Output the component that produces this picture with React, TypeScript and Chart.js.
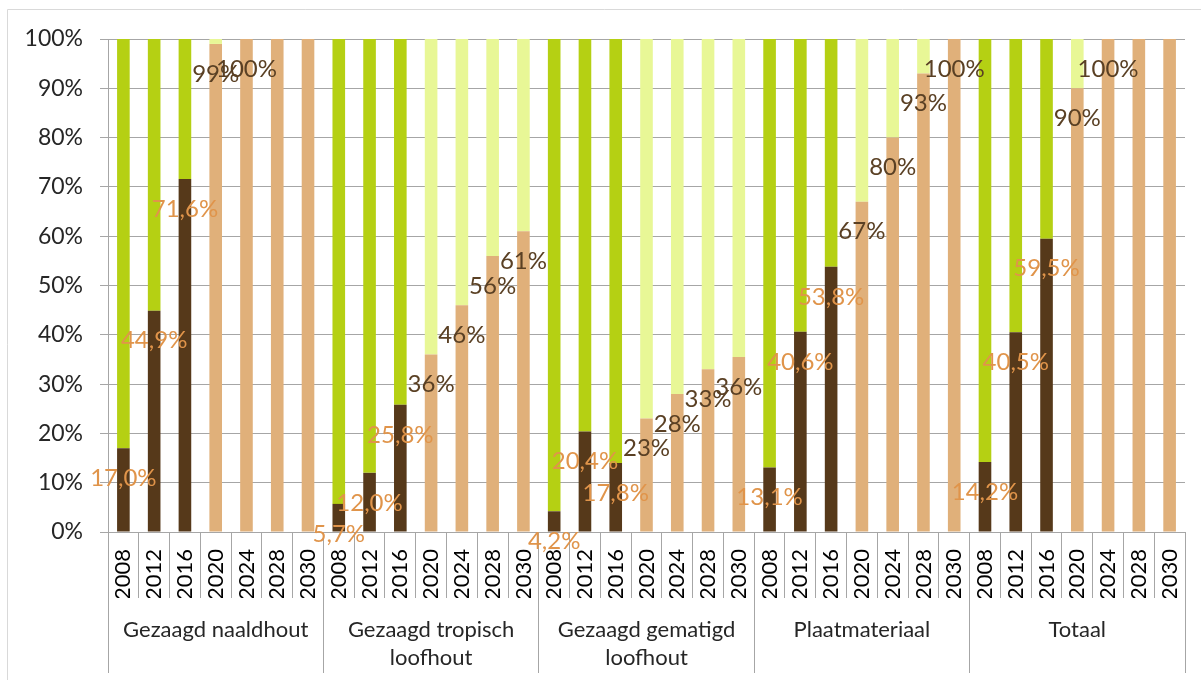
import React, { useEffect, useRef } from "react";
import { Chart, registerables } from "chart.js";

Chart.register(...registerables);

const years = ["2008", "2012", "2016", "2020", "2024", "2028", "2030"];
const groups: (string | string[])[] = [
  "Gezaagd naaldhout",
  ["Gezaagd tropisch", "loofhout"],
  ["Gezaagd gematigd", "loofhout"],
  "Plaatmateriaal",
  "Totaal",
];

// measured shares 2008/2012/2016 (dark brown) and the remainder (green)
const actualShare = [
  [17.0, 44.9, 71.6],
  [5.7, 12.0, 25.8],
  [4.2, 20.4, 14.0],
  [13.1, 40.6, 53.8],
  [14.2, 40.5, 59.5],
];
const actualRest = [
  [83.0, 55.1, 28.4],
  [94.3, 88.0, 74.2],
  [95.8, 79.6, 86.0],
  [86.9, 59.4, 46.2],
  [85.8, 59.5, 40.5],
];
const actualLabels = [
  ["17,0%", "44,9%", "71,6%"],
  ["5,7%", "12,0%", "25,8%"],
  ["4,2%", "20,4%", "17,8%"],
  ["13,1%", "40,6%", "53,8%"],
  ["14,2%", "40,5%", "59,5%"],
];

// targets 2020/2024/2028/2030 (tan) and the remainder (light green)
const targetShare = [
  [99, 100, 100, 100],
  [36, 46, 56, 61],
  [23, 28, 33, 35.5],
  [67, 80, 93, 100],
  [90, 100, 100, 100],
];
const targetRest = [
  [1, 0, 0, 0],
  [64, 54, 44, 39],
  [77, 72, 67, 64.5],
  [33, 20, 7, 0],
  [10, 0, 0, 0],
];
const targetLabels = [
  ["99%", "100%", "", ""],
  ["36%", "46%", "56%", "61%"],
  ["23%", "28%", "33%", "36%"],
  ["67%", "80%", "93%", "100%"],
  ["90%", "100%", "", ""],
];

const yTicks = [0, 10, 20, 30, 40, 50, 60, 70, 80, 90, 100];

const COLORS = {
  brown: "#56391a",
  green: "#b5d013",
  tan: "#e0b07a",
  lightGreen: "#e8f796",
  brownLabel: "#e0944a",
  tanLabel: "#5a4024",
  grid: "#a6a6a6",
  border: "#d9d9d9",
  text: "#262626",
};

const FONT = "Lato, 'Open Sans', sans-serif";

export default function App() {
  const ref = useRef<HTMLCanvasElement | null>(null);

  useEffect(() => {
    if (!ref.current) return;

    const labels: string[] = [];
    const groupLabels: (string | string[])[] = [];
    const brown: (number | null)[] = [];
    const green: (number | null)[] = [];
    const tan: (number | null)[] = [];
    const light: (number | null)[] = [];
    const brownText: string[] = [];
    const tanText: string[] = [];

    groups.forEach((g, gi) => {
      years.forEach((y, yi) => {
        labels.push(y);
        groupLabels.push(yi === 3 ? g : "");
        if (yi < 3) {
          brown.push(actualShare[gi][yi]);
          green.push(actualRest[gi][yi]);
          tan.push(null);
          light.push(null);
          brownText.push(actualLabels[gi][yi]);
          tanText.push("");
        } else {
          brown.push(null);
          green.push(null);
          tan.push(targetShare[gi][yi - 3]);
          light.push(targetRest[gi][yi - 3]);
          brownText.push("");
          tanText.push(targetLabels[gi][yi - 3]);
        }
      });
    });

    const labelPlugin = {
      id: "barLabels",
      beforeDraw(chart: any) {
        const c = chart.ctx;
        c.save();
        c.strokeStyle = COLORS.border;
        c.lineWidth = 1;
        c.beginPath();
        c.moveTo(7.5, 680);
        c.lineTo(7.5, 9.5);
        c.lineTo(1201, 9.5);
        c.stroke();
        c.restore();
      },
      afterDatasetsDraw(chart: any) {
        const c = chart.ctx;
        c.save();
        c.font = `24px ${FONT}`;
        c.textAlign = "center";
        c.textBaseline = "middle";
        const draw = (dsIndex: number, texts: string[], color: string) => {
          const meta = chart.getDatasetMeta(dsIndex);
          meta.data.forEach((el: any, i: number) => {
            const t = texts[i];
            if (!t) return;
            c.fillStyle = color;
            c.fillText(t, el.x, el.y + 30);
          });
        };
        draw(0, brownText, COLORS.brownLabel);
        draw(2, tanText, COLORS.tanLabel);
        c.restore();
      },
    };

    const common = {
      barPercentage: 0.41,
      categoryPercentage: 1,
      xAxisID: "x",
      yAxisID: "y",
      borderWidth: 0,
    };

    const chart = new Chart(ref.current, {
      type: "bar",
      data: {
        labels,
        datasets: [
          { ...common, label: "gecertificeerd", data: brown, backgroundColor: COLORS.brown, stack: "s" },
          { ...common, label: "overig", data: green, backgroundColor: COLORS.green, stack: "s" },
          { ...common, label: "doel", data: tan, backgroundColor: COLORS.tan, stack: "s" },
          { ...common, label: "rest doel", data: light, backgroundColor: COLORS.lightGreen, stack: "s" },
        ],
      },
      options: {
        responsive: false,
        animation: false,
        maintainAspectRatio: false,
        layout: { padding: { top: 39, right: 16, left: 0, bottom: 0 } },
        plugins: {
          legend: { display: false },
          tooltip: { enabled: false },
        },
        scales: {
          x: {
            type: "category",
            position: "bottom",
            stacked: true,
            offset: true,
            weight: 0,
            grid: {
              offset: true,
              drawOnChartArea: false,
              drawTicks: true,
              tickLength: 66,
              color: COLORS.grid,
            },
            border: { display: true, color: COLORS.grid },
            ticks: {
              autoSkip: false,
              minRotation: 90,
              maxRotation: 90,
              padding: -49,
              color: "#000",
              font: { family: FONT, size: 22 },
            },
            afterFit: (s: any) => {
              s.height = 66;
            },
          },
          x2: {
            type: "category",
            position: "bottom",
            labels: groupLabels,
            offset: true,
            weight: 1,
            grid: {
              offset: true,
              drawOnChartArea: false,
              drawTicks: true,
              tickLength: 75,
              color: (ctx: any) =>
                ctx.type !== "tick" || ctx.index % 7 === 0 ? COLORS.grid : "rgba(0,0,0,0)",
            },
            border: { display: false },
            ticks: {
              autoSkip: false,
              minRotation: 0,
              maxRotation: 0,
              padding: -57,
              color: COLORS.text,
              font: { family: FONT, size: 22, lineHeight: 1.27 },
            },
            afterFit: (s: any) => {
              s.height = 82;
            },
          },
          y: {
            type: "linear",
            stacked: true,
            min: 0,
            max: 100,
            afterBuildTicks: (s: any) => {
              s.ticks = yTicks.map((v) => ({ value: v }));
            },
            grid: {
              color: COLORS.grid,
              tickLength: 8,
              drawTicks: true,
            },
            border: { display: true, color: COLORS.grid },
            ticks: {
              padding: 17,
              color: COLORS.text,
              font: { family: FONT, size: 23 },
              callback: (v: any) => `${v}%`,
            },
            afterFit: (s: any) => {
              s.width = 108;
            },
          },
        },
      },
      plugins: [labelPlugin],
    });

    return () => chart.destroy();
  }, []);

  return (
    <div style={{ position: "fixed", left: 0, top: 0, width: 1201, height: 680, background: "#fff" }}>
      <canvas ref={ref} width={1201} height={680} style={{ display: "block" }} />
    </div>
  );
}
